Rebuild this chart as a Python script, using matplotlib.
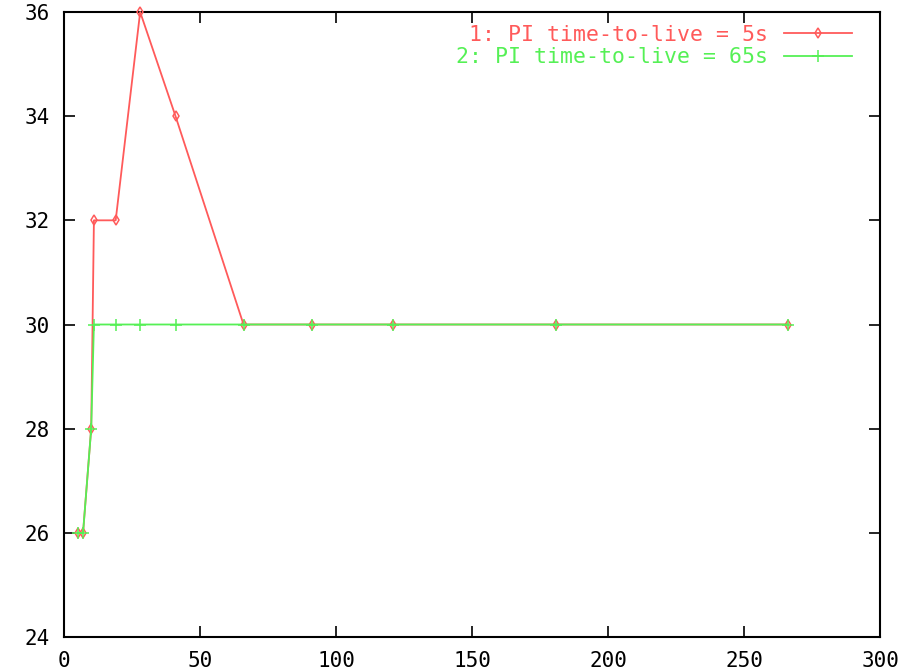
import matplotlib
matplotlib.use("Agg")
import matplotlib.pyplot as plt

# data
t_5s = [5, 7, 10, 11, 19, 28, 41, 66, 91, 121, 181, 266]
v_5s = [26, 26, 28, 32, 32, 36, 34, 30, 30, 30, 30, 30]
t_65s = [5, 7, 10, 11, 19, 28, 41, 66, 91, 121, 181, 266]
v_65s = [26, 26, 28, 30, 30, 30, 30, 30, 30, 30, 30, 30]
labels = ["1: PI time-to-live = 5s", "2: PI time-to-live = 65s"]
xticks = [0, 50, 100, 150, 200, 250, 300]
yticks = [24, 26, 28, 30, 32, 34, 36]

red = "#ff5a5a"
green = "#55f055"
font = "DejaVu Sans Mono"

fig = plt.figure(figsize=(9.09, 6.71), dpi=100)
ax = fig.add_axes([64 / 909, 34 / 671, (880 - 64) / 909, (637 - 12) / 671])

ax.plot(t_5s, v_5s, color=red, lw=1.3, marker="d", ms=5, mfc="none", mew=1.1,
        label=labels[0], clip_on=False, zorder=3)
ax.plot(t_65s, v_65s, color=green, lw=1.3, marker="+", ms=8, mew=1.1,
        label=labels[1], clip_on=False, zorder=4)

ax.set_xlim(0, 300)
ax.set_ylim(24, 36)
ax.set_xticks(xticks)
ax.set_yticks(yticks)
ax.set_xticklabels([str(v) for v in xticks], fontfamily=font, fontsize=15)
ax.set_yticklabels([str(v) for v in yticks], fontfamily=font, fontsize=15)
ax.tick_params(direction="in", length=8, width=1.2, top=True, right=True,
               pad=10, color="black")
for s in ax.spines.values():
    s.set_linewidth(1.5)

leg = ax.legend(loc="upper right", frameon=False, markerfirst=False,
                labelcolor="linecolor", prop={"family": font, "size": 15.5},
                handlelength=3.2, handletextpad=0.7, borderaxespad=0.2,
                labelspacing=0.1, bbox_to_anchor=(0.982, 1.0))

fig.savefig("out.png", dpi=100)
